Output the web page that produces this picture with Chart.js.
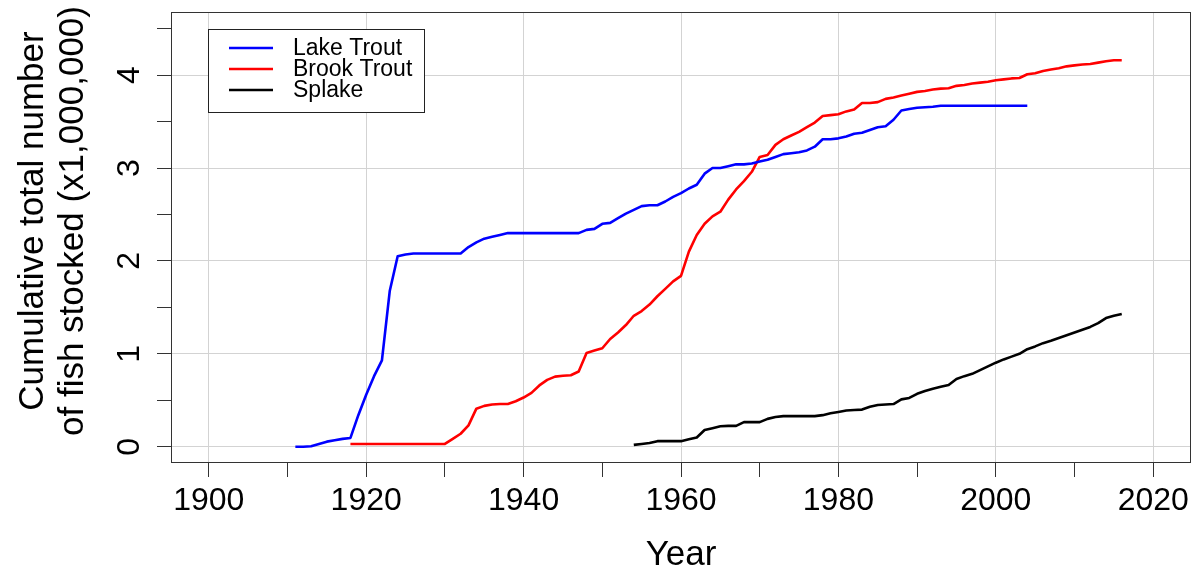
<!DOCTYPE html>
<html><head><meta charset="utf-8">
<script src="https://cdn.jsdelivr.net/npm/chart.js@4.4.1/dist/chart.umd.min.js"></script>
<style>html,body{margin:0;padding:0;background:#fff;overflow:hidden}#wrap{width:1196px;height:574px}</style>
</head><body><div id="wrap"><canvas id="c" width="1196" height="574"></canvas></div>
<script>
const lakeYears = [1911,1912,1913,1914,1915,1916,1917,1918,1919,1920,1921,1922,1923,1924,1925,1926,1927,1928,1929,1930,1931,1932,1933,1934,1935,1936,1937,1938,1939,1940,1941,1942,1943,1944,1945,1946,1947,1948,1949,1950,1951,1952,1953,1954,1955,1956,1957,1958,1959,1960,1961,1962,1963,1964,1965,1966,1967,1968,1969,1970,1971,1972,1973,1974,1975,1976,1977,1978,1979,1980,1981,1982,1983,1984,1985,1986,1987,1988,1989,1990,1991,1992,1993,1994,1995,1996,1997,1998,1999,2000,2001,2002,2003,2004];
const lakeValues = [0.00,0.00,0.005,0.03,0.055,0.07,0.085,0.095,0.34,0.56,
0.76,0.93,1.68,2.05,2.07,2.08,2.08,2.08,2.08,2.08,
2.08,2.08,2.15,2.20,2.24,2.26,2.28,2.30,2.30,2.30,
2.30,2.30,2.30,2.30,2.30,2.30,2.30,2.335,2.345,2.40,
2.41,2.46,2.51,2.55,2.59,2.60,2.60,2.64,2.69,2.73,
2.78,2.82,2.94,3.00,3.00,3.02,3.04,3.04,3.05,3.07,
3.09,3.12,3.15,3.16,3.17,3.19,3.23,3.31,3.31,3.32,
3.34,3.37,3.38,3.41,3.44,3.45,3.52,3.62,3.635,3.65,
3.655,3.66,3.67,3.67,3.67,3.67,3.67,3.67,3.67,3.67,
3.67,3.67,3.67,3.67];
const brookYears = [1918,1919,1920,1921,1922,1923,1924,1925,1926,1927,1928,1929,1930,1931,1932,1933,1934,1935,1936,1937,1938,1939,1940,1941,1942,1943,1944,1945,1946,1947,1948,1949,1950,1951,1952,1953,1954,1955,1956,1957,1958,1959,1960,1961,1962,1963,1964,1965,1966,1967,1968,1969,1970,1971,1972,1973,1974,1975,1976,1977,1978,1979,1980,1981,1982,1983,1984,1985,1986,1987,1988,1989,1990,1991,1992,1993,1994,1995,1996,1997,1998,1999,2000,2001,2002,2003,2004,2005,2006,2007,2008,2009,2010,2011,2012,2013,2014,2015,2016];
const brookValues = [0.03,0.03,0.03,0.03,0.03,0.03,0.03,0.03,0.03,0.03,
0.03,0.03,0.03,0.085,0.14,0.23,0.41,0.44,0.455,0.46,
0.46,0.49,0.53,0.58,0.66,0.72,0.755,0.765,0.77,0.81,
1.01,1.035,1.06,1.16,1.23,1.31,1.41,1.46,1.53,1.62,
1.70,1.78,1.84,2.10,2.28,2.40,2.48,2.53,2.66,2.77,
2.86,2.96,3.12,3.14,3.25,3.31,3.35,3.39,3.44,3.49,
3.56,3.57,3.58,3.61,3.63,3.70,3.70,3.71,3.745,3.76,
3.78,3.80,3.82,3.83,3.845,3.855,3.86,3.885,3.895,3.91,
3.92,3.93,3.945,3.955,3.965,3.97,4.01,4.02,4.045,4.06,
4.075,4.095,4.105,4.115,4.12,4.135,4.15,4.16,4.16];
const splakeYears = [1954,1955,1956,1957,1958,1959,1960,1961,1962,1963,1964,1965,1966,1967,1968,1969,1970,1971,1972,1973,1974,1975,1976,1977,1978,1979,1980,1981,1982,1983,1984,1985,1986,1987,1988,1989,1990,1991,1992,1993,1994,1995,1996,1997,1998,1999,2000,2001,2002,2003,2004,2005,2006,2007,2008,2009,2010,2011,2012,2013,2014,2015,2016];
const splakeValues = [0.02,0.03,0.04,0.06,0.06,0.06,0.06,0.08,0.10,0.18,
0.20,0.22,0.225,0.225,0.265,0.265,0.265,0.30,0.32,0.33,
0.33,0.33,0.33,0.33,0.34,0.36,0.375,0.39,0.395,0.40,
0.43,0.45,0.455,0.46,0.51,0.525,0.57,0.60,0.625,0.645,
0.665,0.73,0.76,0.785,0.825,0.865,0.905,0.94,0.97,1.00,
1.05,1.08,1.115,1.14,1.17,1.20,1.23,1.26,1.29,1.33,
1.385,1.41,1.43];
const seriesNames = ['Lake Trout','Brook Trout','Splake'];
const seriesColors = ['#0000ff','#ff0000','#000000'];
const xTickValues = [1900,1910,1920,1930,1940,1950,1960,1970,1980,1990,2000,2010,2020];
const xLabelValues = [1900,1920,1940,1960,1980,2000,2020];
const yTickValues = [0,0.5,1,1.5,2,2.5,3,3.5,4,4.5];
const yLabelValues = [0,1,2,3,4];
const xTitle = 'Year';
const yTitle = ['Cumulative total number','of fish stocked (x1,000,000)'];

const FONT = '"Liberation Sans", Arial, sans-serif';
const GRID = '#d3d3d3';
const AXC = '#333333';

function pts(xs, ys){ return xs.map((x,i)=>({x:x, y:ys[i]})); }

const rPlugin = {
  id: 'rstyle',
  afterDatasetsDraw(chart){
    const ctx = chart.ctx, a = chart.chartArea;
    ctx.save();
    ctx.strokeStyle = AXC; ctx.lineWidth = 1;
    ctx.strokeRect(Math.round(a.left)+0.5, Math.round(a.top)+0.5, Math.round(a.right-a.left)-1, Math.round(a.bottom-a.top)-1);
    // y tick labels (rotated, R style)
    const ys = chart.scales.y;
    ctx.fillStyle = '#000';
    ctx.font = '32px ' + FONT;
    ctx.textAlign = 'center'; ctx.textBaseline = 'middle';
    yLabelValues.forEach(v=>{
      ctx.save();
      ctx.translate(130, ys.getPixelForValue(v));
      ctx.rotate(-Math.PI/2);
      ctx.fillText(String(v), 0, 0);
      ctx.restore();
    });
    // y axis title (two lines, rotated)
    ctx.font = '35px ' + FONT;
    yTitle.forEach((t,i)=>{
      ctx.save();
      ctx.translate(33 + i*40, 221);
      ctx.rotate(-Math.PI/2);
      ctx.fillText(t, 0, 0);
      ctx.restore();
    });
    // legend
    const L = 208, T = 29, R = 424, B = 112;
    ctx.fillStyle = '#fff';
    ctx.fillRect(L, T, R-L, B-T);
    ctx.strokeStyle = '#222'; ctx.lineWidth = 1;
    ctx.strokeRect(L+0.5, T+0.5, R-L, B-T);
    ctx.font = '23px ' + FONT;
    ctx.textAlign = 'left'; ctx.textBaseline = 'middle';
    chart.data.datasets.forEach((ds,i)=>{
      const y = 48 + i*21;
      ctx.strokeStyle = ds.borderColor; ctx.lineWidth = 2.5;
      ctx.beginPath(); ctx.moveTo(229, y); ctx.lineTo(273, y); ctx.stroke();
      ctx.fillStyle = '#000';
      ctx.fillText(ds.label, 293, y+1);
    });
    ctx.restore();
  }
};

new Chart(document.getElementById('c'), {
  type: 'line',
  data: {
    datasets: [
      {label: seriesNames[0], data: pts(lakeYears, lakeValues), borderColor: seriesColors[0]},
      {label: seriesNames[1], data: pts(brookYears, brookValues), borderColor: seriesColors[1]},
      {label: seriesNames[2], data: pts(splakeYears, splakeValues), borderColor: seriesColors[2]}
    ]
  },
  options: {
    responsive: false, animation: false, devicePixelRatio: 1,
    layout: {padding: {top: 12, right: 5, left: 0, bottom: 0}},
    elements: {
      line: {borderWidth: 2.6, tension: 0, fill: false, borderJoinStyle: 'round', borderCapStyle: 'butt'},
      point: {radius: 0, hoverRadius: 0}
    },
    plugins: {legend: {display: false}, tooltip: {enabled: false}},
    events: [],
    scales: {
      x: {
        type: 'linear', min: 1895.2, max: 2024.8,
        afterBuildTicks: s => { s.ticks = xTickValues.map(v=>({value: v})); },
        afterFit: s => { s.height = 111; },
        ticks: {
          callback: v => xLabelValues.includes(v) ? String(v) : '',
          autoSkip: false, maxRotation: 0, minRotation: 0, includeBounds: false,
          font: {family: FONT, size: 32}, color: '#000', padding: 5
        },
        grid: {
          color: c => (c.tick && xLabelValues.includes(c.tick.value)) ? GRID : 'rgba(0,0,0,0)',
          lineWidth: 1, tickColor: AXC, tickWidth: 1, tickLength: 14, drawTicks: true
        },
        border: {display: false},
        title: {display: true, text: xTitle, color: '#000', font: {family: FONT, size: 35, lineHeight: 1.0}, padding: {top: 0, bottom: 1}}
      },
      y: {
        type: 'linear', min: -0.175, max: 4.68, position: 'left',
        afterBuildTicks: s => { s.ticks = yTickValues.map(v=>({value: v})); },
        afterFit: s => { s.width = 171; },
        ticks: {display: false, includeBounds: false},
        grid: {
          color: c => (c.tick && yLabelValues.includes(c.tick.value)) ? GRID : 'rgba(0,0,0,0)',
          lineWidth: 1, tickColor: AXC, tickWidth: 1, tickLength: 14, drawTicks: true
        },
        border: {display: false},
        title: {display: false}
      }
    }
  },
  plugins: [rPlugin]
});
</script></body></html>
